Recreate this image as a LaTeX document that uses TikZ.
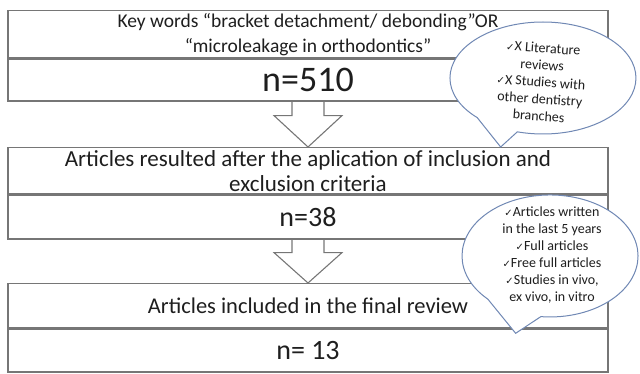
\documentclass[tikz,border=0pt]{standalone}
\usepackage{fontspec}
\setmainfont{Carlito}
\newfontfamily\symf{DejaVu Sans}
\usetikzlibrary{calc}
\definecolor{boxline}{RGB}{118,118,118}
\definecolor{bubline}{RGB}{112,136,180}
\definecolor{txt}{RGB}{30,30,30}
\newcommand{\ck}{{\fontsize{10}{10}\symf ✓}}
\begin{document}
\begin{tikzpicture}[x=1pt,y=-1pt,
  sect/.style={draw=boxline, line width=1.3pt, minimum width=600pt, inner sep=0pt, align=center, text=txt, anchor=north},
  blockarrow/.style={draw=boxline, line width=1.1pt, line join=miter},
  bubble/.style={draw=bubline, line width=1pt, fill=white, line join=miter},
  bubtext/.style={align=center, text=txt, font=\fontsize{14}{17}\selectfont, inner sep=0pt}
]
\useasboundingbox (0,0) rectangle (640,374);
% boxes
\node[sect, minimum height=47pt, font=\fontsize{19.5}{25}\selectfont] (b1t) at (308,10) {Key words “bracket detachment/ debonding”OR\\“microleakage in orthodontics”};
\node[sect, minimum height=42pt, font=\fontsize{36}{36}\selectfont] (b1n) at (b1t.south) {n=510};
\node[sect, minimum height=46pt, font=\fontsize{23}{25}\selectfont] (b2t) at (308,147) {Articles resulted after the aplication of inclusion and\\exclusion criteria};
\node[sect, minimum height=44pt, font=\fontsize{28}{28}\selectfont] (b2n) at (b2t.south) {n=38};
\node[sect, minimum height=44pt, font=\fontsize{22.5}{25}\selectfont] (b3t) at (308,283) {Articles included in the final review};
\node[sect, minimum height=43pt, font=\fontsize{28}{28}\selectfont] (b3n) at (b3t.south) {n= 13};
% block arrows
\draw[blockarrow] ($(b1n.south)+(-16,0)$) -- ($(b1n.south)+(-16,14)$) -- ($(b1n.south)+(-34,14)$) -- (b2t.north) -- ($(b1n.south)+(34,14)$) -- ($(b1n.south)+(16,14)$) -- ($(b1n.south)+(16,0)$);
\draw[blockarrow] ($(b2n.south)+(-16,0)$) -- ($(b2n.south)+(-16,13)$) -- ($(b2n.south)+(-34,13)$) -- (b3t.north) -- ($(b2n.south)+(34,13)$) -- ($(b2n.south)+(16,13)$) -- ($(b2n.south)+(16,0)$);
% callouts
\coordinate (t1) at ($(b2t.north east)+(-108,0)$);
\coordinate (t2) at ($(b3n.north east)+(-93,5)$);
\draw[bubble] (t1) -- (477.2,117.6) arc[start angle=135, end angle=466, x radius=93, y radius=56] -- cycle;
\node[bubtext, rotate=-4] (c1) at (541,82) {\ck X Literature\\reviews\\\ck X Studies with\\other dentistry\\branches};
\draw[bubble] (t2) -- (487.8,299.1) arc[start angle=135, end angle=456, x radius=88, y radius=61] -- cycle;
\node[bubtext] (c2) at (552,255) {\ck Articles written\\in the last 5 years\\\ck Full articles\\\ck Free full articles\\\ck Studies in vivo,\\ex vivo, in vitro};
\end{tikzpicture}
\end{document}
